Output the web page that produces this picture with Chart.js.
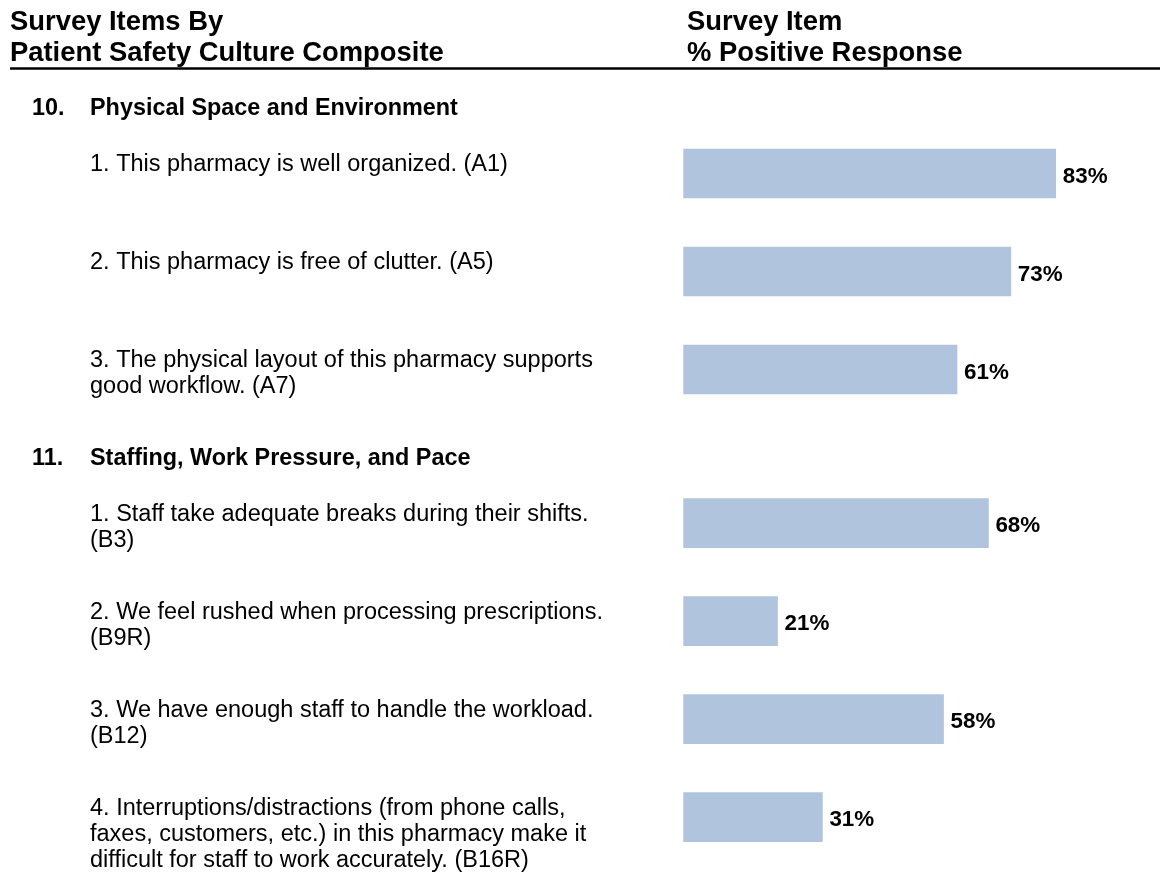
<!DOCTYPE html>
<html>
<head>
<meta charset="utf-8">
<title>Survey Items By Patient Safety Culture Composite</title>
<script src="https://cdn.jsdelivr.net/npm/chart.js@4.4.1/dist/chart.umd.min.js"></script>
<style>
  html, body { margin: 0; padding: 0; background: #fff; }
  .page { position: relative; width: 1160px; height: 880px; overflow: hidden; }
  .box { position: absolute; left: 0; width: 1160px; }
  #boxSpace { top: 0; height: 420px; }
  #boxStaffing { top: 420px; height: 460px; }
</style>
</head>
<body>
<div class="page">
  <div class="box" id="boxSpace"><canvas id="spaceChart"></canvas></div>
  <div class="box" id="boxStaffing"><canvas id="staffingChart"></canvas></div>
</div>
<script>
const headerLeft = ['Survey Items By', 'Patient Safety Culture Composite'];
const headerRight = ['Survey Item', '% Positive Response'];
const compositeNumbers = ['10.', '11.'];
const compositeNames = ['Physical Space and Environment', 'Staffing, Work Pressure, and Pace'];

const spaceItems = [
  ['1. This pharmacy is well organized. (A1)'],
  ['2. This pharmacy is free of clutter. (A5)'],
  ['3. The physical layout of this pharmacy supports', 'good workflow. (A7)']
];
const spaceValues = [83, 73, 61];

const staffingItems = [
  ['1. Staff take adequate breaks during their shifts.', '(B3)'],
  ['2. We feel rushed when processing prescriptions.', '(B9R)'],
  ['3. We have enough staff to handle the workload.', '(B12)'],
  ['4. Interruptions/distractions (from phone calls,', 'faxes, customers, etc.) in this pharmacy make it', 'difficult for staff to work accurately. (B16R)']
];
const staffingValues = [68, 21, 58, 31];

const FONT = '"Liberation Sans", Arial, Helvetica, sans-serif';
const BAR_COLOR = '#B0C4DE';

// draws the item text on the left, the % labels and the composite headings
const surveyText = {
  id: 'surveyText',
  afterDatasetsDraw(chart, args, opts) {
    const ctx = chart.ctx;
    const meta = chart.getDatasetMeta(0);
    ctx.save();
    ctx.fillStyle = '#000';
    ctx.textAlign = 'left';
    ctx.textBaseline = 'alphabetic';

    if (opts.pageHeader) {
      ctx.font = 'bold 27.4px ' + FONT;
      headerLeft.forEach((t, i) => ctx.fillText(t, 10, 30 + i * 31));
      headerRight.forEach((t, i) => ctx.fillText(t, 687, 30 + i * 31));
      ctx.strokeStyle = '#000';
      ctx.lineWidth = 2.5;
      ctx.beginPath();
      ctx.moveTo(10, 68.5);
      ctx.lineTo(chart.width, 68.5);
      ctx.stroke();
    }

    const first = meta.data[0];
    const firstTop = first.y - first.height / 2;
    ctx.font = 'bold 23.4px ' + FONT;
    ctx.fillText(compositeNumbers[opts.composite], 32, firstTop - 34);
    ctx.fillText(compositeNames[opts.composite], 90, firstTop - 34);

    chart.data.labels.forEach((lines, i) => {
      const bar = meta.data[i];
      const top = bar.y - bar.height / 2;
      ctx.font = '23.5px ' + FONT;
      lines.forEach((line, j) => ctx.fillText(line, 90, top + 22 + j * 26.3));
      ctx.font = 'bold 22.4px ' + FONT;
      ctx.fillText(chart.data.datasets[0].data[i] + '%', bar.x + 7, bar.y + 9);
    });
    ctx.restore();
  }
};

function makeChart(id, items, values, composite, pad, pageHeader) {
  const ctx = document.getElementById(id).getContext('2d');
  return new Chart(ctx, {
    type: 'bar',
    data: {
      labels: items,
      datasets: [{
        data: values,
        backgroundColor: BAR_COLOR,
        borderWidth: 0,
        barThickness: 49
      }]
    },
    options: {
      indexAxis: 'y',
      responsive: true,
      maintainAspectRatio: false,
      animation: false,
      layout: { padding: { left: 683.3, right: 28, top: pad[0], bottom: pad[1] } },
      scales: {
        x: { min: 0, max: 100, display: false },
        y: { display: false }
      },
      plugins: {
        legend: { display: false },
        tooltip: { enabled: false },
        surveyText: { composite: composite, pageHeader: pageHeader }
      }
    },
    plugins: [surveyText]
  });
}

makeChart('spaceChart', spaceItems, spaceValues, 0, [124.5, 1.5], true);
makeChart('staffingChart', staffingItems, staffingValues, 1, [54.2, 13.8], false);
</script>
</body>
</html>
